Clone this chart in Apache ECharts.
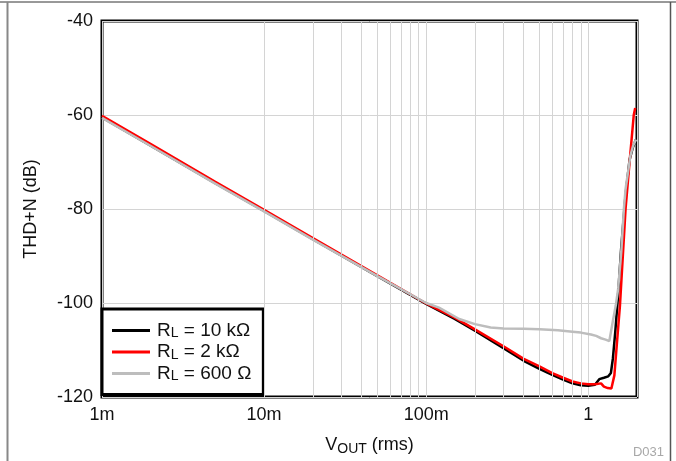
<!DOCTYPE html>
<html>
<head>
<meta charset="utf-8">
<script src="https://cdn.jsdelivr.net/npm/echarts@6/dist/echarts.min.js"></script>
<style>
html,body{margin:0;padding:0;background:#fff;}
#chart{width:676px;height:461px;}
</style>
</head>
<body>
<div id="chart"></div>
<script>
// ---- data ----
const seriesNames = ['RL = 10 kΩ', 'RL = 2 kΩ', 'RL = 600 Ω'];
const legendSuffix = [' = 10 kΩ', ' = 2 kΩ', ' = 600 Ω'];

const vout10k = [0.001, 0.002, 0.005, 0.01, 0.02, 0.05, 0.1, 0.15, 0.2, 0.3, 0.4, 0.5, 0.6, 0.7, 0.8, 0.9, 1.0, 1.1, 1.17, 1.25, 1.33, 1.38, 1.42, 1.47, 1.52, 1.6, 1.7, 1.8, 1.89, 1.94, 1.97];
const thd10k  = [-60.5, -66.5, -74.5, -80.4, -86.4, -94.3, -100.2, -103.4, -105.9, -109.6, -112.3, -114.0, -115.3, -116.3, -117.1, -117.5, -117.6, -117.4, -116.2, -115.9, -115.6, -114.9, -111.8, -106.0, -99.5, -88.0, -77.0, -69.5, -66.8, -66.6, -65.2];

const vout2k = [0.001, 0.002, 0.005, 0.01, 0.02, 0.05, 0.1, 0.15, 0.2, 0.3, 0.4, 0.5, 0.6, 0.7, 0.8, 0.9, 1.0, 1.1, 1.2, 1.25, 1.32, 1.39, 1.45, 1.5, 1.57, 1.7, 1.8, 1.91, 1.95];
const thd2k  = [-60.2, -66.2, -74.2, -80.2, -86.2, -94.1, -100.1, -103.1, -105.6, -109.2, -111.9, -113.5, -114.9, -115.9, -116.7, -117.1, -117.3, -117.3, -117.1, -117.8, -118.1, -118.2, -115.4, -109.0, -100.5, -80.0, -70.0, -60.0, -58.5];

const vout600 = [0.001, 0.002, 0.005, 0.01, 0.02, 0.05, 0.1, 0.12, 0.16, 0.2, 0.25, 0.3, 0.4, 0.5, 0.65, 0.8, 0.9, 1.04, 1.12, 1.2, 1.28, 1.35, 1.42, 1.48, 1.53, 1.6, 1.66, 1.7, 1.82, 1.89, 1.97];
const thd600  = [-60.6, -66.6, -74.6, -80.5, -86.5, -94.3, -100.0, -101.0, -103.4, -104.5, -105.2, -105.4, -105.5, -105.6, -105.8, -106.1, -106.3, -106.7, -107.0, -107.5, -107.8, -108.1, -103.8, -100.5, -97.0, -89.0, -80.0, -75.8, -68.7, -66.6, -65.2];

// axis ticks
const xMin = 0.001, xMax = 2;
const yMin = -120, yMax = -40, yStep = 20;
const xTickLabels = {'0.001': '1m', '0.01': '10m', '0.1': '100m', '1': '1'};
const minorGridX = [0.002,0.003,0.004,0.005,0.006,0.007,0.008,0.009,
                    0.02,0.03,0.04,0.05,0.06,0.07,0.08,0.09,
                    0.2,0.3,0.4,0.5,0.6,0.7,0.8,0.9];

const colors = ['#000000', '#ff0000', '#bdbdbd'];
const FONT = '"Liberation Sans", Arial, Helvetica, sans-serif';

function pairs(xs, ys){ return xs.map((x,i)=>[x, ys[i]]); }

const chart = echarts.init(document.getElementById('chart'), null, {renderer:'canvas'});
const option = {
  animation: false,
  backgroundColor: '#fff',
  textStyle: {fontFamily: FONT},
  grid: {left: 102, right: 39, top: 21, bottom: 62.5, show: true, borderColor: '#000', borderWidth: 3, backgroundColor: 'transparent'},
  xAxis: {
    type: 'log', logBase: 10, min: xMin, max: xMax,
    name: '{v|V}{s|OUT}{v| (rms)}', nameLocation: 'middle', nameGap: 37,
    nameTextStyle: {rich: {
      v: {fontSize: 18, fontFamily: FONT, color: '#111', lineHeight: 22, verticalAlign: 'middle'},
      s: {fontSize: 14, fontFamily: FONT, color: '#111', lineHeight: 14, verticalAlign: 'bottom'}
    }},
    axisLine: {show: false}, axisTick: {show: false},
    axisLabel: {color: '#111', fontSize: 18, fontFamily: FONT, margin: 9,
      showMinLabel: true, showMaxLabel: true,
      formatter: function(v){ const k = String(+v.toPrecision(6)); return xTickLabels[k] !== undefined ? xTickLabels[k] : ''; }},
    splitLine: {show: true, lineStyle: {color: '#d4d4d4', width: 1}}
  },
  yAxis: {
    type: 'value', min: yMin, max: yMax, interval: yStep,
    name: 'THD+N (dB)', nameLocation: 'middle', nameGap: 62, nameRotate: 90,
    nameTextStyle: {fontSize: 18, color: '#111', fontFamily: FONT},
    axisLine: {show: false}, axisTick: {show: false},
    axisLabel: {color: '#111', fontSize: 18, fontFamily: FONT, margin: 9},
    splitLine: {show: true, lineStyle: {color: '#d4d4d4', width: 1}}
  },
  legend: {
    orient: 'vertical', left: 102, top: 309,
    data: seriesNames,
    icon: 'rect', itemWidth: 38, itemHeight: 3, itemGap: 2,
    padding: [12, 12, 11, 10],
    backgroundColor: '#fff', borderColor: '#000', borderWidth: 3, borderRadius: 0,
    selectedMode: false,
    formatter: function(name){ const i = seriesNames.indexOf(name); return '{r|R}{s|L}{r|' + legendSuffix[i] + '}'; },
    textStyle: {padding: [0,0,0,2], rich: {
      r: {fontSize: 19, fontFamily: FONT, color: '#111', lineHeight: 20, verticalAlign: 'middle'},
      s: {fontSize: 14, fontFamily: FONT, color: '#111', lineHeight: 12, verticalAlign: 'bottom'}
    }}
  },
  series: [
    {name: 'grid-minor', type: 'line', data: [], silent: true, z: 1,
      markLine: {silent: true, symbol: ['none','none'], label: {show: false},
        lineStyle: {color: '#d4d4d4', width: 1, type: 'solid'},
        data: minorGridX.map(v => ({xAxis: v}))}},
    {name: seriesNames[0], type: 'line', data: pairs(vout10k, thd10k), showSymbol: false, z: 3,
      lineStyle: {color: colors[0], width: 2.5}, itemStyle: {color: colors[0]}},
    {name: seriesNames[1], type: 'line', data: pairs(vout2k, thd2k), showSymbol: false, z: 4,
      lineStyle: {color: colors[1], width: 2.5}, itemStyle: {color: colors[1]}},
    {name: seriesNames[2], type: 'line', data: pairs(vout600, thd600), showSymbol: false, z: 5,
      lineStyle: {color: colors[2], width: 2.5}, itemStyle: {color: colors[2]}}
  ],
  graphic: [
    {type: 'line', shape: {x1: 0, y1: 2, x2: 676, y2: 2}, style: {stroke: '#333', lineWidth: 1}, silent: true},
    {type: 'line', shape: {x1: 7.5, y1: 2, x2: 7.5, y2: 461}, style: {stroke: '#888', lineWidth: 2}, silent: true},
    {type: 'line', shape: {x1: 670.5, y1: 2, x2: 670.5, y2: 461}, style: {stroke: '#555', lineWidth: 1.5}, silent: true},
    {type: 'text', right: 12, top: 446, style: {text: 'D031', fill: '#a8a8a8', font: '13px ' + FONT}, silent: true}
  ]
};
chart.setOption(option);
</script>
</body>
</html>
